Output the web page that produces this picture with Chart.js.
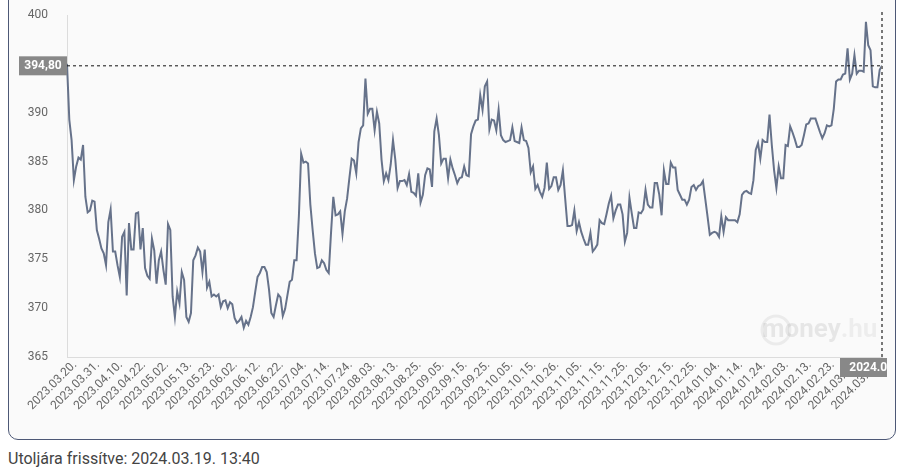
<!DOCTYPE html>
<html lang="hu">
<head>
<meta charset="utf-8">
<script src="https://cdn.jsdelivr.net/npm/chart.js@4"></script>
<style>
  html, body { margin: 0; padding: 0; background: #fff; }
  body { width: 903px; height: 475px; overflow: hidden; position: relative; font-family: Roboto, sans-serif; }
  .card { position: absolute; left: 8px; top: -30px; width: 888px; height: 470px; box-sizing: border-box;
          border: 1px solid #4d5876; border-radius: 10px; background: #fafafa; }
  .wrap { position: absolute; left: 18px; top: 0; width: 869px; height: 430px; }
  .updated { position: absolute; left: 8px; top: 449px; font-size: 16px; color: #444; }
</style>
</head>
<body>
<div class="card"></div>
<div class="wrap"><canvas id="rate"></canvas></div>
<div class="updated">Utoljára frissítve: 2024.03.19. 13:40</div>
<script>
// tick dates shown on the x axis, one every 10 points
const tickDates = [
  '2023.03.20', '2023.03.31', '2023.04.10', '2023.04.22', '2023.05.02', '2023.05.13',
  '2023.05.23', '2023.06.02', '2023.06.12', '2023.06.22', '2023.07.04', '2023.07.14',
  '2023.07.24', '2023.08.03', '2023.08.13', '2023.08.25', '2023.09.05', '2023.09.15',
  '2023.09.25', '2023.10.05', '2023.10.15', '2023.10.26', '2023.11.05', '2023.11.15',
  '2023.11.25', '2023.12.05', '2023.12.15', '2023.12.25', '2024.01.04', '2024.01.14',
  '2024.01.24', '2024.02.03', '2024.02.13', '2024.02.23', '2024.03.04', '2024.03.14'
];

const ratesMarJun = [
  395.0, 389.3, 387.2, 383.1, 384.5, 385.4, 385.2, 386.7, 381.4, 379.8,
  380.0, 381.0, 380.9, 378.0, 377.1, 376.1, 375.6, 374.4, 378.8, 380.1,
  375.8, 375.8, 374.4, 373.2, 377.3, 377.8, 371.3, 378.7, 376.0, 376.0,
  379.7, 379.8, 376.0, 378.2, 374.1, 373.3, 373.0, 377.1, 375.9, 372.5,
  374.9, 375.8, 373.9, 372.4, 378.6, 378.0, 371.2, 369.1, 371.7, 370.5,
  373.7, 372.9, 369.1, 368.6, 369.5, 374.9, 375.4, 376.2, 375.8, 373.7,
  376.0, 372.1, 372.7, 371.2, 371.4, 371.2, 371.4, 370.1, 370.7, 370.8,
  370.0, 370.6, 370.4, 369.0, 368.5, 368.7, 369.1, 368.0, 368.7, 368.3,
  369.1, 370.1, 371.7, 373.2, 373.6, 374.2, 374.2, 373.7, 371.9, 369.5,
  369.1, 370.3, 371.4, 371.1, 369.2, 369.9, 371.3, 372.7, 372.9, 374.9
];
const ratesJulSep = [
  374.9, 379.4, 385.8, 384.9, 385.0, 384.8, 380.6, 378.0, 375.6, 374.1,
  374.2, 374.9, 374.6, 373.9, 373.6, 377.7, 381.4, 379.5, 379.6, 379.9,
  377.6, 379.9, 381.2, 383.3, 385.3, 385.1, 383.8, 387.0, 388.4, 388.7,
  393.5, 389.9, 390.4, 390.4, 388.2, 390.1, 388.9, 385.2, 383.0, 383.8,
  383.1, 384.7, 387.2, 385.2, 382.3, 383.0, 383.0, 383.1, 382.6, 383.7,
  381.9, 381.8, 381.5, 383.8, 380.8, 381.6, 383.6, 384.3, 384.2, 382.4,
  388.1, 389.4, 387.7, 384.8, 385.3, 385.3, 383.3, 385.2, 384.3, 383.6,
  382.8, 383.3, 383.4, 384.5, 383.6, 383.5, 387.8, 388.6, 389.2, 389.3,
  391.8, 390.3, 392.7, 393.2, 388.3, 389.3, 389.2, 388.2, 390.3, 387.7
];
const ratesOctDec = [
  387.2, 387.0, 387.1, 387.2, 388.5, 387.1, 387.0, 386.9, 388.5, 387.2,
  387.1, 386.4, 383.9, 384.5, 382.2, 382.6, 381.9, 381.4, 382.3, 384.9,
  382.2, 382.5, 383.4, 383.4, 382.1, 382.6, 384.1, 381.2, 378.4, 378.4,
  378.5, 380.0, 377.9, 378.8, 377.8, 377.1, 376.5, 376.5, 377.7, 375.8,
  376.1, 376.5, 379.0, 378.7, 378.6, 379.6, 380.7, 381.5, 379.2, 380.0,
  380.6, 380.6, 379.6, 376.8, 377.7, 381.3, 379.7, 378.2, 378.2, 379.8,
  379.7, 380.1, 382.1, 380.6, 380.3, 380.3, 382.8, 382.8, 381.6, 379.5,
  384.1, 382.7, 382.7, 384.9, 384.4, 384.4, 382.1, 381.6, 381.1, 381.1,
  380.6, 381.1, 382.4, 382.6, 382.1, 382.5, 382.6, 383.0, 381.2, 379.4
];
const ratesJanMar = [
  377.5, 377.7, 377.8, 377.7, 377.3, 379.4, 377.8, 379.3, 379.0, 379.0,
  379.0, 379.0, 378.8, 379.6, 381.6, 381.9, 382.0, 381.8, 381.7, 383.1,
  386.2, 386.9, 385.3, 387.2, 387.0, 387.0, 389.8, 386.7, 384.1, 382.3,
  384.5, 383.3, 383.3, 386.7, 386.6, 388.6, 388.0, 387.3, 386.5, 386.5,
  386.7, 387.7, 388.8, 388.9, 389.4, 389.4, 389.4, 388.7, 388.0, 387.4,
  387.9, 388.7, 388.6, 388.7, 390.4, 393.2, 393.4, 393.4, 393.9, 394.0,
  396.6, 393.4, 394.0, 395.9, 394.0, 394.3, 394.3, 394.2, 399.3, 396.9,
  396.4, 392.7, 392.6, 392.6, 394.4, 394.8
];

const values = [...ratesMarJun, ...ratesJulSep, ...ratesOctDec, ...ratesJanMar];

const parseDate = s => { const [y, m, d] = s.split('.').map(Number); return new Date(Date.UTC(y, m - 1, d)); };
const fmtDate = dt => dt.getUTCFullYear() + '.' + String(dt.getUTCMonth() + 1).padStart(2, '0') + '.' +
  String(dt.getUTCDate()).padStart(2, '0') + '.';

// one label per point: the tick date, then the following days
const labels = values.map((v, i) => {
  const k = Math.min(Math.floor(i / 10), tickDates.length - 1);
  const base = parseDate(tickDates[k]);
  base.setUTCDate(base.getUTCDate() + (i - k * 10));
  return fmtDate(base);
});

const lastMarker = {
  id: 'lastMarker',
  beforeDatasetsDraw(chart) {
    const { ctx } = chart;
    ctx.save();
    ctx.textAlign = 'left';
    ctx.textBaseline = 'middle';
    ctx.strokeStyle = 'rgba(0,0,0,0.06)';
    ctx.lineWidth = 3;
    ctx.beginPath();
    ctx.arc(758, 330, 14, 0, Math.PI * 2);
    ctx.stroke();
    ctx.font = 'bold 26px Roboto';
    ctx.fillStyle = 'rgba(0,0,0,0.08)';
    ctx.fillText('money', 744, 330);
    const w = ctx.measureText('money').width;
    ctx.fillStyle = 'rgba(0,0,0,0.05)';
    ctx.fillText('.hu', 744 + w, 330);
    ctx.restore();
  },
  afterDatasetsDraw(chart) {
    const { ctx, chartArea, scales: { x, y } } = chart;
    const last = values.length - 1;
    const px = x.getPixelForValue(last);
    const py = y.getPixelForValue(values[last]);
    ctx.save();
    ctx.lineWidth = 1;
    ctx.strokeStyle = '#111';
    ctx.setLineDash([3, 3]);
    ctx.beginPath();
    ctx.moveTo(chartArea.left, py);
    ctx.lineTo(px, py);
    ctx.stroke();

    ctx.lineWidth = 2;
    ctx.strokeStyle = '#777';
    ctx.beginPath();
    ctx.moveTo(px, chartArea.top - 3);
    ctx.lineTo(px, chartArea.bottom);
    ctx.stroke();
    ctx.setLineDash([]);

    ctx.fillStyle = '#888';
    ctx.fillRect(chartArea.left - 48, py - 9.5, 48, 19);
    ctx.fillRect(px - 42, chartArea.bottom + 1, 84, 19);

    ctx.fillStyle = '#fff';
    ctx.font = 'bold 12px Roboto';
    ctx.textAlign = 'center';
    ctx.textBaseline = 'middle';
    ctx.fillText(values[last].toFixed(2).replace('.', ','), chartArea.left - 24, py);
    ctx.fillText(labels[last], px, chartArea.bottom + 10.5);
    ctx.restore();
  }
};

new Chart(document.getElementById('rate'), {
  type: 'line',
  data: {
    labels: labels,
    datasets: [{
      data: values,
      borderColor: '#66728a',
      borderWidth: 2,
      pointRadius: 0,
      tension: 0,
      fill: false
    }]
  },
  options: {
    responsive: true,
    maintainAspectRatio: false,
    animation: false,
    layout: { autoPadding: false, padding: { top: 15, right: 5, left: 0, bottom: 0 } },
    plugins: { legend: { display: false }, tooltip: { enabled: false } },
    scales: {
      x: {
        grid: { display: false, drawTicks: false },
        border: { display: true, dash: [3, 3], color: '#dcdcdc' },
        ticks: {
          autoSkip: false,
          minRotation: 45,
          maxRotation: 45,
          padding: 1,
          labelOffset: 8,
          color: '#666',
          font: { family: 'Roboto', size: 12 },
          callback: function (val, idx) { return idx % 10 === 0 ? this.getLabelForValue(val) : ''; }
        },
        afterFit: scale => {
          scale.height = 73;
          scale.paddingLeft = 0; scale.paddingRight = 0;
          scale.paddingTop = 0; scale.paddingBottom = 0;
        }
      },
      y: {
        min: 365,
        max: 400,
        grid: { display: false, drawTicks: false },
        border: { display: true, dash: [3, 3], color: '#dcdcdc' },
        ticks: {
          stepSize: 5,
          padding: 19,
          color: '#666',
          font: { family: 'Roboto', size: 12 }
        },
        afterFit: scale => {
          scale.width = 49;
          scale.paddingTop = 0; scale.paddingBottom = 0;
        }
      }
    }
  },
  plugins: [lastMarker]
});
</script>
</body>
</html>
